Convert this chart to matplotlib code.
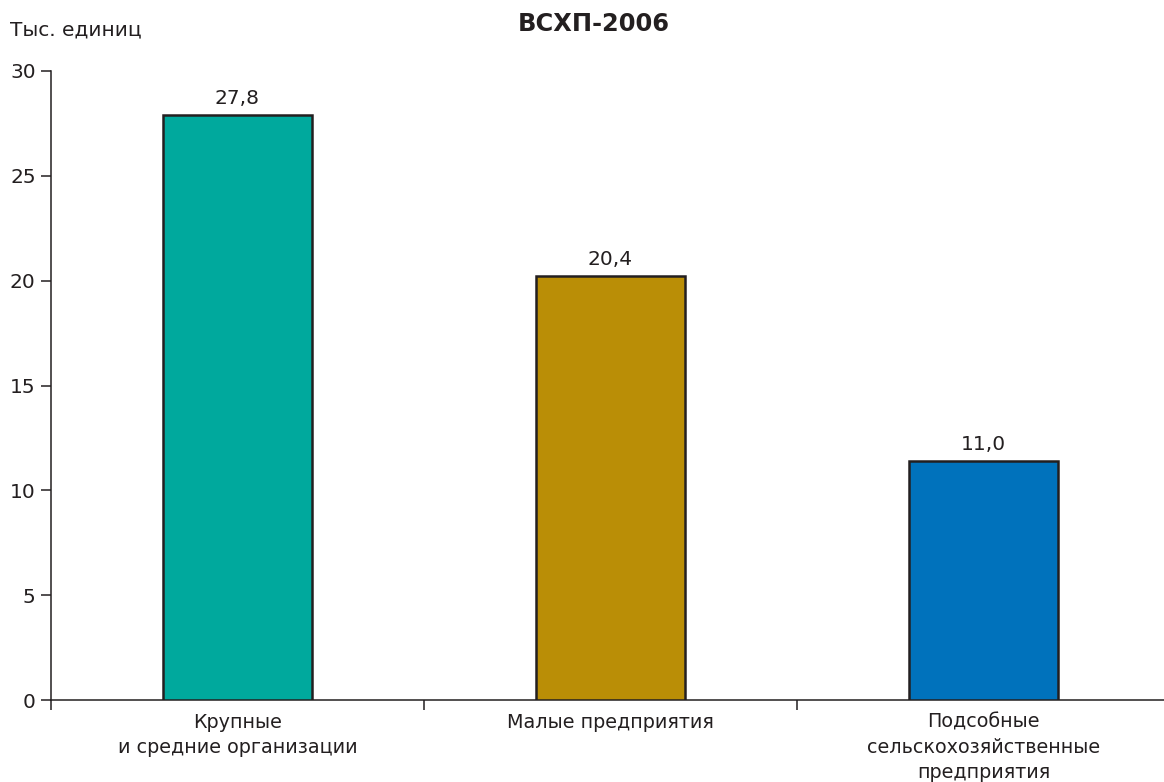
import numpy as np
import matplotlib.pyplot as plt

# data
categories = ['Крупные\nи средние организации',
              'Малые предприятия',
              'Подсобные\nсельскохозяйственные\nпредприятия']
heights = [27.9, 20.2, 11.4]          # drawn bar heights
value_labels = ['27,8', '20,4', '11,0']  # printed values
colors = ['#00A99D', '#BA8E06', '#0072BC']

plt.rcParams['font.family'] = ['DejaVu Sans']
txt = '#231F20'

fig = plt.figure(figsize=(11.64, 7.82), dpi=100)
ax = fig.add_axes([51/1164, 82/782, 1119/1164, 629/782])

x = np.arange(len(categories))
bars = ax.bar(x, heights, width=0.4, color=colors, edgecolor=txt, linewidth=1.8, zorder=3)
for b, lab in zip(bars, value_labels):
    ax.text(b.get_x() + b.get_width()/2, b.get_height() + 0.35, lab,
            ha='center', va='bottom', fontsize=14.5, color=txt)

ax.set_xlim(-0.5, 2.5)
ax.set_ylim(0, 30)
ax.set_yticks([0, 5, 10, 15, 20, 25, 30])
ax.set_xticks(x)
ax.set_xticklabels(categories, linespacing=1.42)
ax.set_xticks([-0.5, 0.5, 1.5, 2.5], minor=True)
ax.tick_params(axis='x', which='major', length=0, pad=9, labelsize=13.8, labelcolor=txt)
ax.tick_params(axis='x', which='minor', length=7, width=1.1, color=txt)
ax.tick_params(axis='y', length=7, width=1.1, color=txt, labelsize=14.5, labelcolor=txt, pad=4)

for s in ['top', 'right']:
    ax.spines[s].set_visible(False)
for s in ['left', 'bottom']:
    ax.spines[s].set_color(txt)
    ax.spines[s].set_linewidth(1.1)

fig.text(10/1164, 1 - 30/782, 'Тыс. единиц', fontsize=14.5, color=txt, va='center', ha='left')
fig.text(594/1164, 1 - 24/782, 'ВСХП-2006', fontsize=17.4, fontweight='bold', color=txt,
         va='center', ha='center')

fig.savefig('out.png', dpi=100)
